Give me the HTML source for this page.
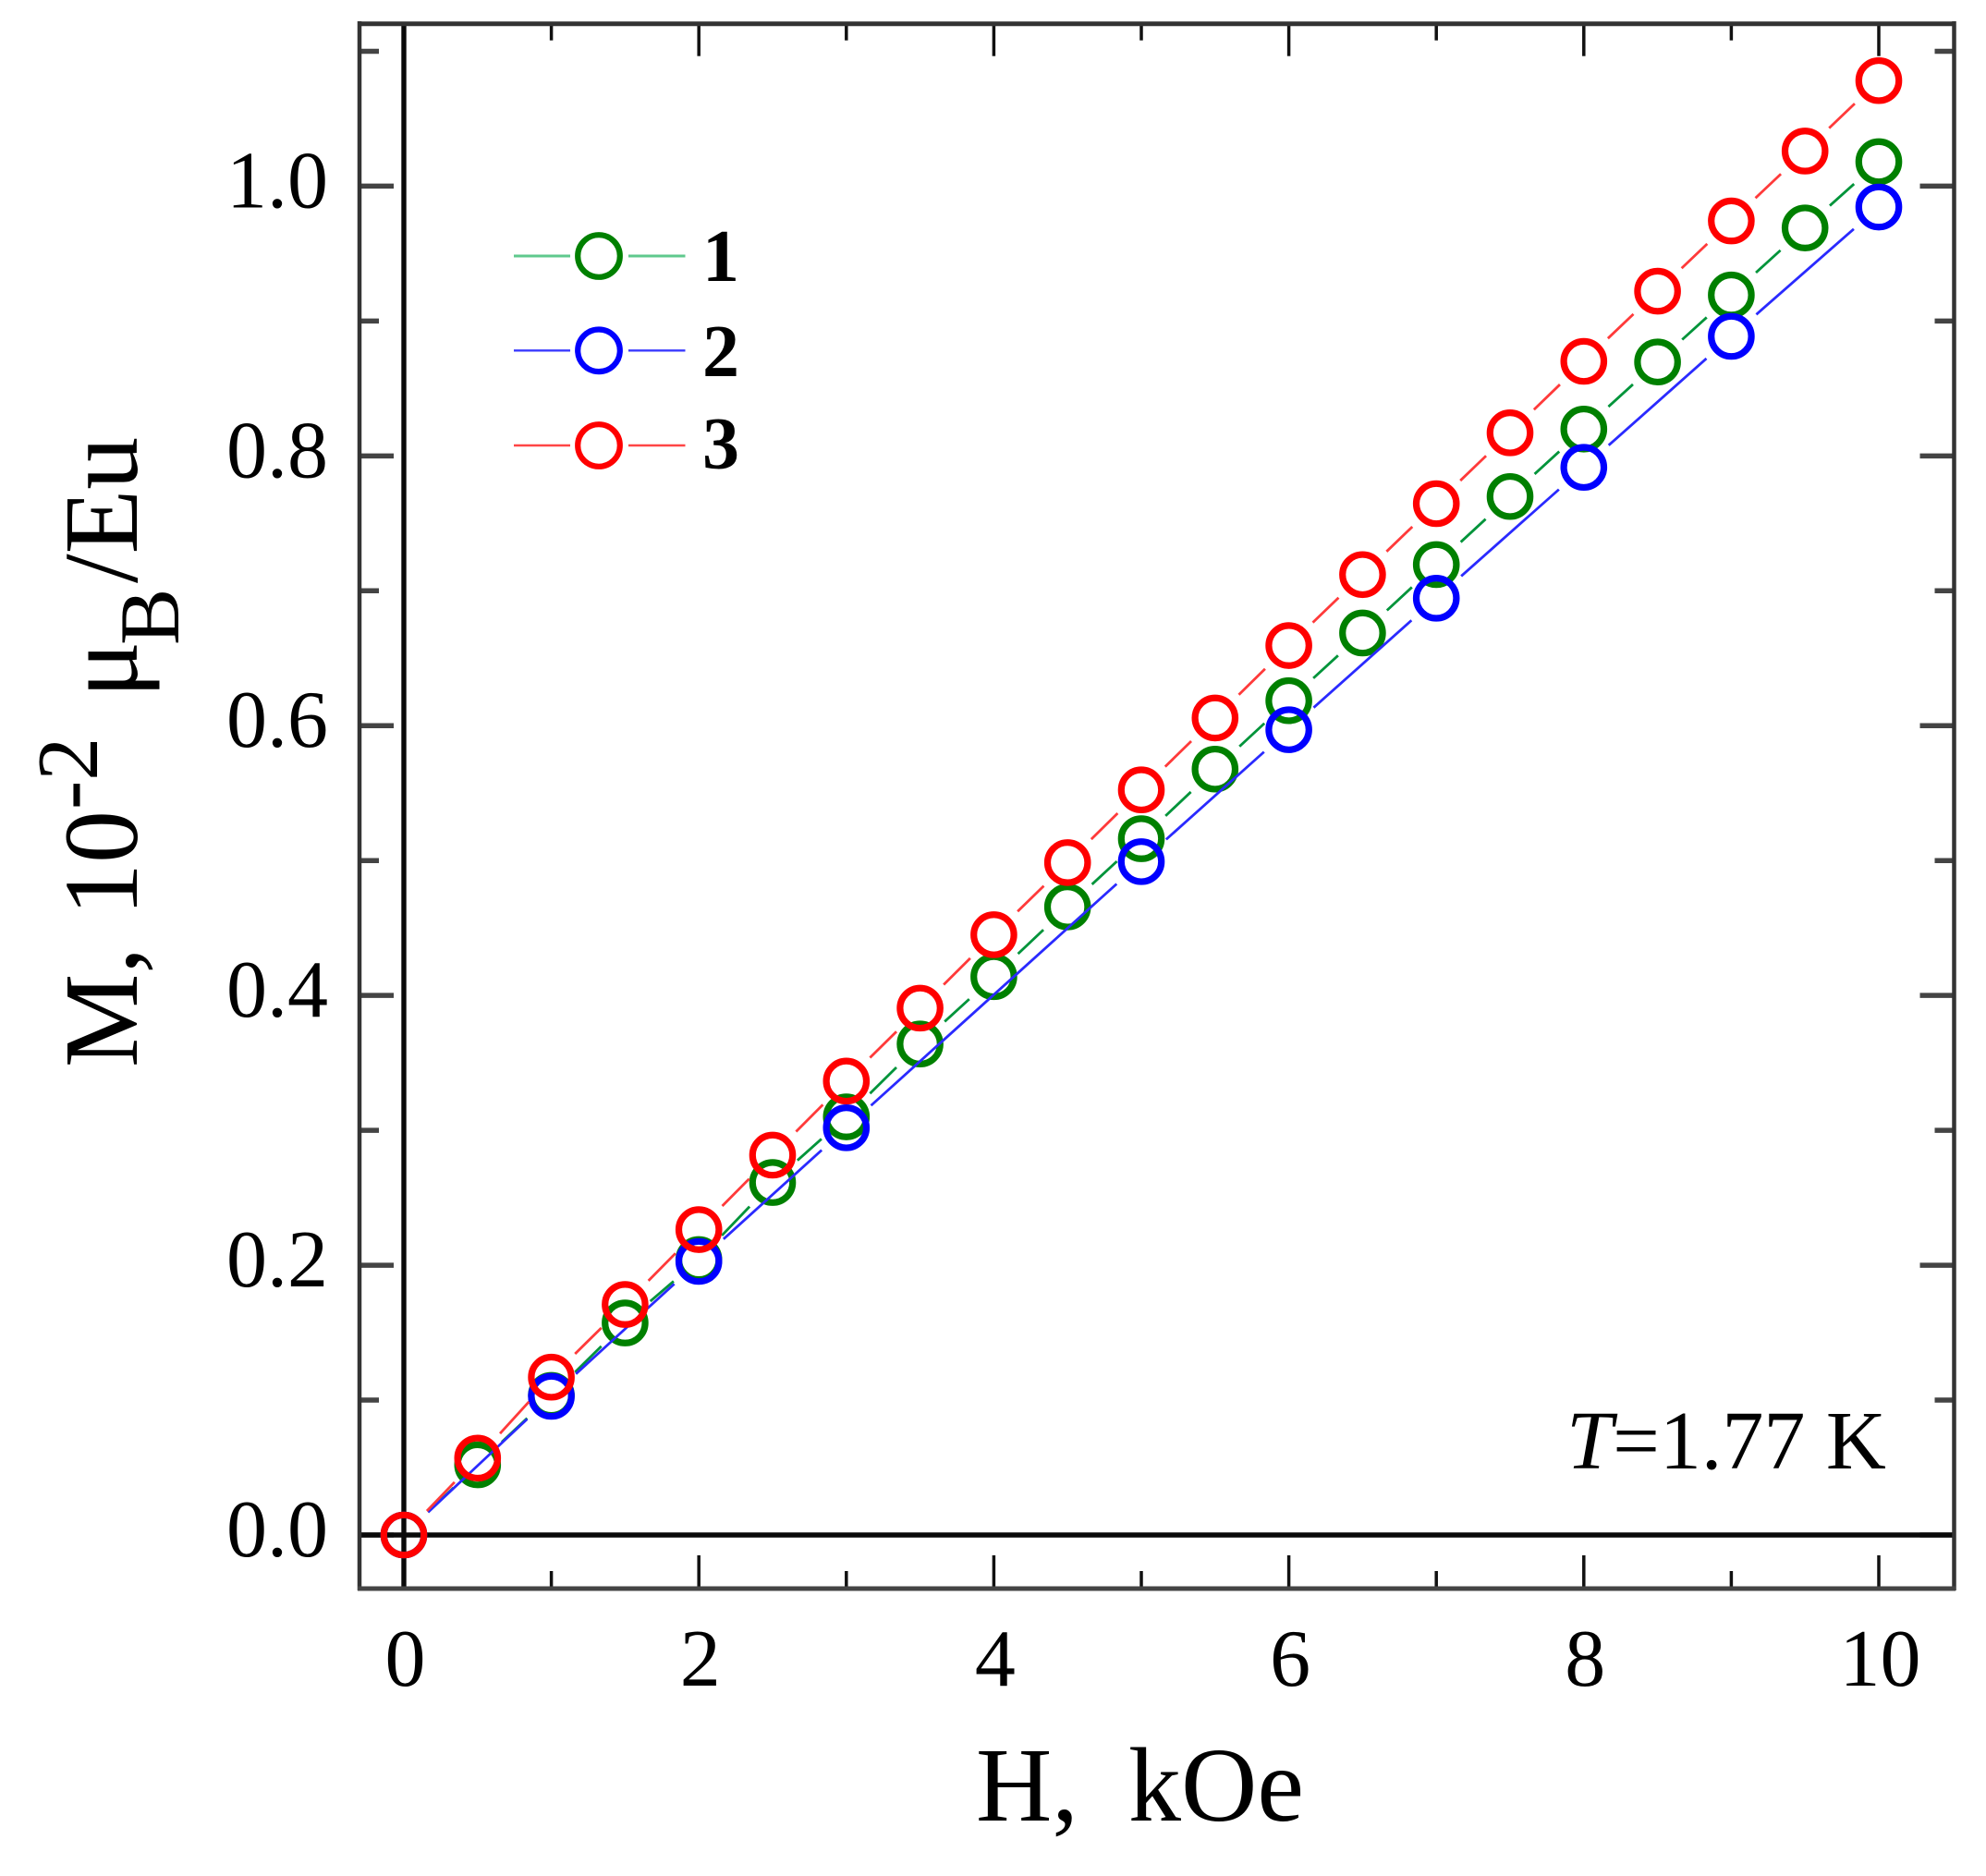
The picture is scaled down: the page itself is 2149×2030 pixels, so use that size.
<!DOCTYPE html>
<html lang="en">
<head>
<meta charset="utf-8">
<title>Magnetization vs field</title>
<style>
html,body{margin:0;padding:0;background:#fff;width:2149px;height:2030px;overflow:hidden}
svg{display:block}
text{font-family:"Liberation Serif",serif;fill:#000}
</style>
</head>
<body>
<svg id="chart" xmlns="http://www.w3.org/2000/svg" width="2149" height="2030" viewBox="0 0 2149 2030">
  <rect x="0" y="0" width="2149" height="2030" fill="#fff"/>
  <g id="ticks"></g>
  <line x1="437" y1="26" x2="437" y2="1719" stroke="#0a0a0a" stroke-width="5.4"/>
  <line x1="389" y1="1661" x2="2114" y2="1661" stroke="#0a0a0a" stroke-width="5.4"/>
  <g id="frame">
    <line x1="387" y1="25.7" x2="2116" y2="25.7" stroke="#333" stroke-width="5"/>
    <line x1="389" y1="23" x2="389" y2="1721" stroke="#333" stroke-width="4.5"/>
    <line x1="2114.5" y1="23" x2="2114.5" y2="1721" stroke="#333" stroke-width="4.5"/>
    <line x1="387" y1="1719" x2="2116" y2="1719" stroke="#444" stroke-width="5"/>
  </g>
  <g id="tick-labels"></g>
  <g id="series"></g>

  <g id="legend">
    <g>
      <line x1="556" y1="277" x2="617" y2="277" stroke="#5fc98d" stroke-width="3"/>
      <line x1="680" y1="277" x2="741.5" y2="277" stroke="#5fc98d" stroke-width="3"/>
      <circle cx="648" cy="277" r="22.8" fill="none" stroke="#008000" stroke-width="6.2"/>
      <text x="780" y="304" font-size="80" font-weight="700" text-anchor="middle">1</text>
    </g>
    <g>
      <line x1="556" y1="379.3" x2="617" y2="379.3" stroke="#3a3aff" stroke-width="2.4"/>
      <line x1="680" y1="379.3" x2="741.5" y2="379.3" stroke="#3a3aff" stroke-width="2.4"/>
      <circle cx="648" cy="379.3" r="22.8" fill="none" stroke="#0000ff" stroke-width="6.2"/>
      <text x="780" y="407" font-size="80" font-weight="700" text-anchor="middle">2</text>
    </g>
    <g>
      <line x1="556" y1="482" x2="617" y2="482" stroke="#ff4545" stroke-width="2.4"/>
      <line x1="680" y1="482" x2="741.5" y2="482" stroke="#ff4545" stroke-width="2.4"/>
      <circle cx="648" cy="482" r="22.8" fill="none" stroke="#ff0000" stroke-width="6.2"/>
      <text x="780" y="506.5" font-size="80" font-weight="700" text-anchor="middle">3</text>
    </g>
  </g>

  <text x="1695" y="1589" font-size="90"><tspan font-style="italic">T</tspan>=1.77 K</text>

  <g>
    <text x="1056" y="1970" font-size="114">H,</text>
    <text x="1221" y="1970" font-size="114">kOe</text>
  </g>

  <g>
    <text transform="translate(148,1155) rotate(-90)" font-size="114">M,</text>
    <text transform="translate(148,991) rotate(-90)" font-size="114">10</text>
    <text transform="translate(105,876) rotate(-90)" font-size="94">-2</text>
    <text transform="translate(148,755) rotate(-90)" font-size="114">μ</text>
    <text transform="translate(193,698) rotate(-90)" font-size="92">B</text>
    <text transform="translate(148,631) rotate(-90)" font-size="114">/Eu</text>
  </g>
</svg>

<script>
// ---- chart data ----
const xTickValues = [0, 1, 2, 3, 4, 5, 6, 7, 8, 9, 10];
const xTickLabels = ['0', '2', '4', '6', '8', '10'];
const yTickValues = [0, 0.1, 0.2, 0.3, 0.4, 0.5, 0.6, 0.7, 0.8, 0.9, 1.0, 1.1];
const yTickLabels = ['0.0', '0.2', '0.4', '0.6', '0.8', '1.0'];

const fieldHalfSteps = [0, 0.5, 1, 1.5, 2, 2.5, 3, 3.5, 4, 4.5, 5, 5.5, 6, 6.5, 7, 7.5, 8, 8.5, 9, 9.5, 10];
const fieldSample2 = [0, 1, 2, 3, 5, 6, 7, 8, 9, 10];

const sample1Values = [0, 0.052, 0.1035, 0.1572, 0.2042, 0.2613, 0.31, 0.364, 0.4139, 0.4656, 0.5162, 0.5678, 0.6185, 0.6687, 0.7194, 0.7699, 0.8199, 0.8696, 0.9193, 0.969, 1.0181];
const sample2Values = [0, 0.1028, 0.2028, 0.3019, 0.4992, 0.597, 0.6945, 0.7915, 0.8886, 0.9845];
const sample3Values = [0, 0.057, 0.117, 0.1709, 0.2264, 0.2816, 0.3365, 0.3906, 0.445, 0.4985, 0.5524, 0.6057, 0.6594, 0.712, 0.7646, 0.8171, 0.8701, 0.9221, 0.9742, 1.026, 1.0782];

// ---- axis functions ----
const X0 = 437, X_UNIT = 159.6, Y0 = 1661, Y_UNIT = 1459.6;
function sx(v) { return X0 + X_UNIT * v; }
function sy(v) { return Y0 - Y_UNIT * v; }

const NS = 'http://www.w3.org/2000/svg';
function mk(tag, attrs, parent) {
  const el = document.createElementNS(NS, tag);
  for (const k in attrs) el.setAttribute(k, attrs[k]);
  parent.appendChild(el);
  return el;
}

// ---- ticks ----
const ticksG = document.getElementById('ticks');
const FRAME_L = 389, FRAME_R = 2114.5, FRAME_T = 25.7, FRAME_B = 1719;

xTickValues.forEach(function (v, i) {
  const major = i % 2 === 0;
  const len = major ? 36 : 19;
  const b = mk('line', { x1: sx(v), x2: sx(v), y1: FRAME_B, y2: FRAME_B - len, stroke: '#111', 'stroke-width': 3.5 }, ticksG);
  
  
  const t = mk('line', { x1: sx(v), x2: sx(v), y1: FRAME_T, y2: FRAME_T + len - 1, stroke: '#111', 'stroke-width': 3.5 }, ticksG);
  
  
});

yTickValues.forEach(function (v, i) {
  const major = i % 2 === 0;
  const len = major ? 37 : 21;
  const l = mk('line', { x1: FRAME_L, x2: FRAME_L + len, y1: sy(v), y2: sy(v), stroke: '#444', 'stroke-width': 5.5 }, ticksG);
  
  
  const r = mk('line', { x1: FRAME_R, x2: FRAME_R - len, y1: sy(v), y2: sy(v), stroke: '#444', 'stroke-width': 5.5 }, ticksG);
  
  
});

// ---- tick labels ----
const labelsG = document.getElementById('tick-labels');
xTickLabels.forEach(function (s) {
  const t = mk('text', { x: sx(Number(s)) + 1.5, y: 1824, 'font-size': 88, 'text-anchor': 'middle' }, labelsG);
  
  
  t.textContent = s;
});
yTickLabels.forEach(function (s) {
  const t = mk('text', { x: 355, y: sy(Number(s)) + 23, 'font-size': 88, 'text-anchor': 'end' }, labelsG);
  
  
  t.textContent = s;
});

// ---- series ----
const seriesG = document.getElementById('series');
const GAP = 36;

function drawSeries(xs, ys, lineColor, markerColor, lineWidth, seriesName) {
  const g = mk('g', {}, seriesG);
  
  
  for (let i = 0; i < xs.length - 1; i++) {
    const ax = sx(xs[i]), ay = sy(ys[i]), bx = sx(xs[i + 1]), by = sy(ys[i + 1]);
    const d = Math.hypot(bx - ax, by - ay);
    const ux = (bx - ax) / d, uy = (by - ay) / d;
    const seg = mk('line', {
      x1: ax + ux * GAP, y1: ay + uy * GAP,
      x2: bx - ux * GAP, y2: by - uy * GAP,
      stroke: lineColor, 'stroke-width': lineWidth
    }, g);
    
    
  }
  xs.forEach(function (x, i) {
    const c = mk('circle', { cx: sx(x), cy: sy(ys[i]), r: 21.7, fill: 'none', stroke: markerColor, 'stroke-width': 7.2 }, g);
    
    
  });
}

drawSeries(fieldHalfSteps, sample1Values, '#00943a', '#008000', 2.8, 'series-1');
drawSeries(fieldSample2, sample2Values, '#2a2aff', '#0000ff', 2.8, 'series-2');
drawSeries(fieldHalfSteps, sample3Values, '#ff3a3a', '#ff0000', 2.8, 'series-3');
</script>
</body>
</html>
